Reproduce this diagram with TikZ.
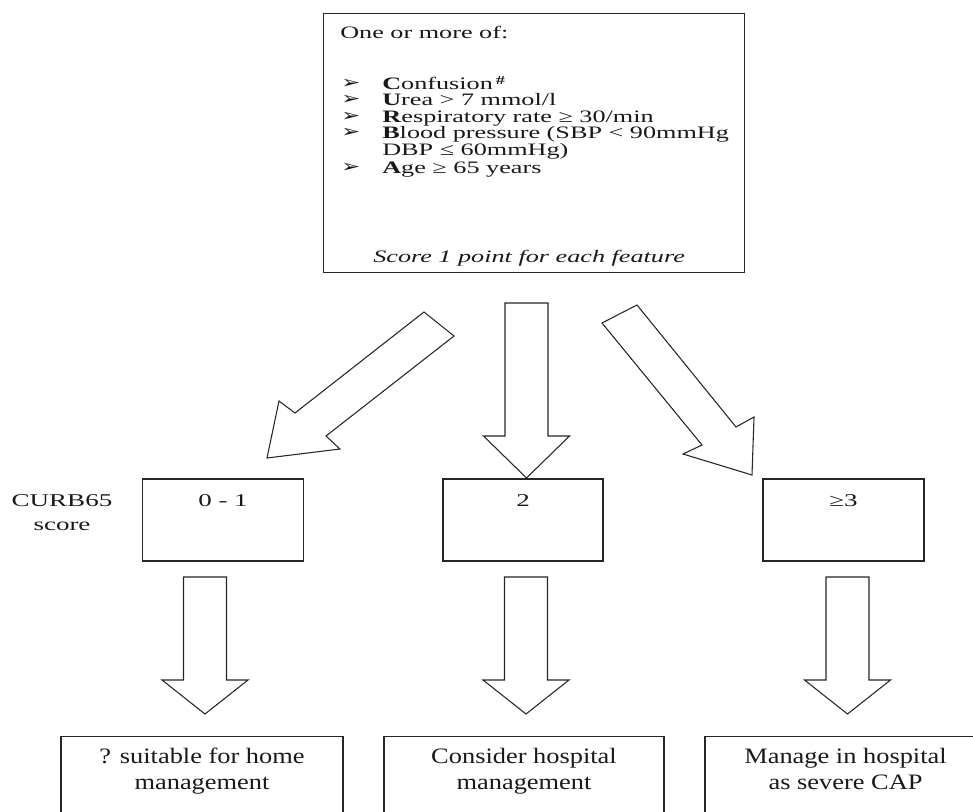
\documentclass[tikz,border=0pt]{standalone}
\usepackage{fontspec}
\setmainfont{Liberation Serif}
\newfontfamily\wA[FakeStretch=1.5]{Liberation Serif}
\newfontfamily\wB[FakeStretch=1.2]{Liberation Serif}
\newfontfamily\wS[FakeStretch=1.3]{DejaVu Sans}
\newcommand{\vblockarrow}[4]{% x, ytop, ywing, ytip
  \draw[blockarrow] (#1-21.5,#2) -- (#1+21.5,#2) -- (#1+21.5,#3) -- (#1+43,#3)
    -- (#1,#4) -- (#1-43,#3) -- (#1-21.5,#3) -- cycle;}
\begin{document}
\begin{tikzpicture}[x=0.75pt,y=-0.75pt,
  box/.style={draw=black!85, line width=0.9pt, inner sep=0pt},
  blockarrow/.style={draw=black!85, line width=0.8pt, fill=white, line join=miter},
  txt/.style={inner sep=0pt, text=black!90, font=\wA\fontsize{13.1}{12.6}\selectfont},
  bul/.style={inner sep=0pt, text=black!90, font=\wS\fontsize{13}{13}\selectfont},
  lab/.style={inner sep=0pt, text=black!90, font=\wA\fontsize{13.5}{19.5}\selectfont},
  res/.style={inner sep=0pt, text=black!90, align=center, font=\wB\fontsize{16.5}{19.5}\selectfont}]
\useasboundingbox (0,0) rectangle (973,812);
\clip (0,0) rectangle (973,812);

% top box
\node[box, anchor=north west, minimum width=315.75pt, minimum height=194.25pt] (top) at (323,13) {};
\node[txt, anchor=base west] (l0) at (340,39) {One or more of:};
\node[bul, anchor=base west] (b1) at (341,89) {➢};
\node[bul, anchor=base west] (b2) at (341,105) {➢};
\node[bul, anchor=base west] (b3) at (341,122) {➢};
\node[bul, anchor=base west] (b4) at (341,138) {➢};
\node[bul, anchor=base west] (b6) at (341,173) {➢};
\node[txt, anchor=base west] (l1) at (382,90) {\textbf{C}onfusion\,\textsuperscript{\textbf{\#}}};
\node[txt, anchor=base west] (l2) at (382,106) {\textbf{U}rea > 7 mmol/l};
\node[txt, anchor=base west] (l3) at (382,123) {\textbf{R}espiratory rate ≥ 30/min};
\node[txt, anchor=base west] (l4) at (382,139) {\textbf{B}lood pressure (SBP < 90mmHg};
\node[txt, anchor=base west] (l5) at (382,156) {DBP ≤ 60mmHg)};
\node[txt, anchor=base west] (l6) at (382,174) {\textbf{A}ge ≥ 65 years};
\node[txt, anchor=base west] (l7) at (373,263) {\itshape Score 1 point for each feature};

% score boxes
\node[box, minimum width=120.75pt, minimum height=61.5pt] (s1) at (223,520) {};
\node[box, minimum width=120pt, minimum height=61.5pt] (s2) at (523,520) {};
\node[box, minimum width=120.75pt, minimum height=61.5pt] (s3) at (843.5,520) {};
\node[lab, anchor=base] (t1) at (223,506) {0 - 1};
\node[lab, anchor=base] (t2) at (523,506) {2};
\node[lab, anchor=base] (t3) at (843.5,506) {≥3};
\node[lab, anchor=base] (c1) at (62,506) {CURB65};
\node[lab, anchor=base] (c2) at (62,530) {score};

% result boxes
\node[box, anchor=north, minimum width=211.5pt, minimum height=75pt] (r1) at (202,736) {};
\node[box, anchor=north, minimum width=210pt, minimum height=75pt] (r2) at (524,736) {};
\node[box, anchor=north, minimum width=210.75pt, minimum height=75pt] (r3) at (845.5,736) {};
\node[res, anchor=base] (u1) at (202,789) {? suitable for home\\management};
\node[res, anchor=base] (u2) at (524,789) {Consider hospital\\management};
\node[res, anchor=base] (u3) at (845.5,789) {Manage in hospital\\as severe CAP};

% block arrows from the top box to the score boxes
\draw[blockarrow] (424,312) -- (454,336) -- (326,436) -- (340,449) -- (267,458)
  -- (279,401) -- (295,413) -- cycle;
\vblockarrow{526.5}{303}{436}{478}
\draw[blockarrow] (637,305) -- (602,323) -- (702,445) -- (683,454) -- (752,475)
  -- (754,417) -- (736,427) -- cycle;

% block arrows from the score boxes to the result boxes
\vblockarrow{205}{577}{680}{714}
\vblockarrow{526}{577}{680}{714}
\vblockarrow{847.5}{577}{680}{714}
\end{tikzpicture}
\end{document}
